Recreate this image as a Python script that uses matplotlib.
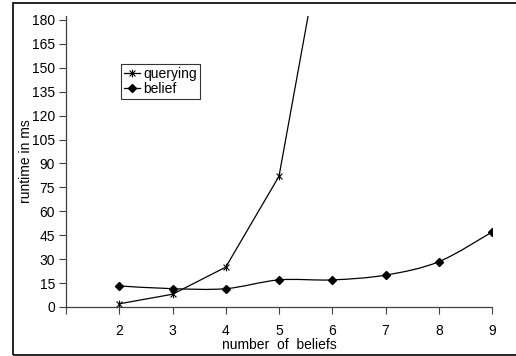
import numpy as np
import matplotlib.pyplot as plt
from matplotlib.path import Path
from matplotlib.patches import PathPatch, Rectangle
from matplotlib.lines import Line2D

plt.rcParams['font.family'] = ['Liberation Sans', 'DejaVu Sans']

n_beliefs = [2, 3, 4, 5, 6, 7, 8, 9]
querying_x = [2, 3, 4, 5, 6]
querying = [2, 8, 25, 82, 266]
belief = [13.2, 11.5, 11.5, 17, 17, 20, 28.4, 47]
yticks = list(range(0, 181, 15))

fig = plt.figure(figsize=(5.16, 3.56), dpi=100)
# outer frame (right edge falls outside the picture)
fig.patches.append(Rectangle((13 / 516, 1 / 356), 1.0, 352 / 356, transform=fig.transFigure,
                             fill=False, edgecolor='black', linewidth=1.2))

ax = fig.add_axes([66 / 516, 49 / 356, 426 / 516, 291 / 356])
ax.set_xlim(1, 9)
ax.set_ylim(0, 182.5)

star = Path([(-1, -1), (1, 1), (-1, 1), (1, -1), (0, -1.3), (0, 1.3)],
            [Path.MOVETO, Path.LINETO, Path.MOVETO, Path.LINETO, Path.MOVETO, Path.LINETO])

ax.plot(querying_x, querying, color='black', linewidth=0.9, marker=star, markersize=5.5,
        markerfacecolor='none', markeredgewidth=0.8)

# smoothed belief line (Catmull-Rom to Bezier)
pts = np.column_stack([n_beliefs, belief]).astype(float)
ext = np.vstack([pts[0], pts, pts[-1]])
verts = [tuple(pts[0])]
codes = [Path.MOVETO]
for i in range(1, len(ext) - 2):
    p0, p1, p2, p3 = ext[i - 1], ext[i], ext[i + 1], ext[i + 2]
    c1 = p1 + (p2 - p0) / 6
    c2 = p2 - (p3 - p1) / 6
    verts += [tuple(c1), tuple(c2), tuple(p2)]
    codes += [Path.CURVE4] * 3
ax.add_patch(PathPatch(Path(verts, codes), fill=False, edgecolor='black', linewidth=0.9))
ax.plot(n_beliefs, belief, linestyle='none', marker='D', markersize=4.2, color='black')

for s in ['top', 'right']:
    ax.spines[s].set_visible(False)
for s in ['left', 'bottom']:
    ax.spines[s].set_color('#404040')
    ax.spines[s].set_linewidth(0.9)

ax.set_xticks(range(1, 10))
ax.set_xticklabels([''] + [str(v) for v in n_beliefs])
ax.set_yticks(yticks)
ax.tick_params(axis='both', direction='out', length=5, width=0.8, color='#404040',
               labelsize=10, pad=3)
ax.tick_params(axis='x', pad=7)

ax.set_xlabel('number  of  beliefs', fontsize=10, labelpad=0)
ax.set_ylabel('runtime in ms', fontsize=10, labelpad=-1)

h1 = Line2D([], [], color='black', linewidth=0.9, marker=star, markersize=5.5,
            markerfacecolor='none', markeredgewidth=0.8)
h2 = Line2D([], [], color='black', linewidth=0.9, marker='D', markersize=4.2)
leg = ax.legend([h1, h2], ['querying', 'belief'], loc='upper left',
                bbox_to_anchor=((121 - 66) / 426, (307 - 64) / 291), fontsize=10,
                frameon=True, fancybox=False, handlelength=1.2, handletextpad=0.2,
                borderpad=0.2, labelspacing=0.1, borderaxespad=0)
leg.get_frame().set_edgecolor('black')
leg.get_frame().set_linewidth(0.8)

fig.savefig('out.png', dpi=100)
